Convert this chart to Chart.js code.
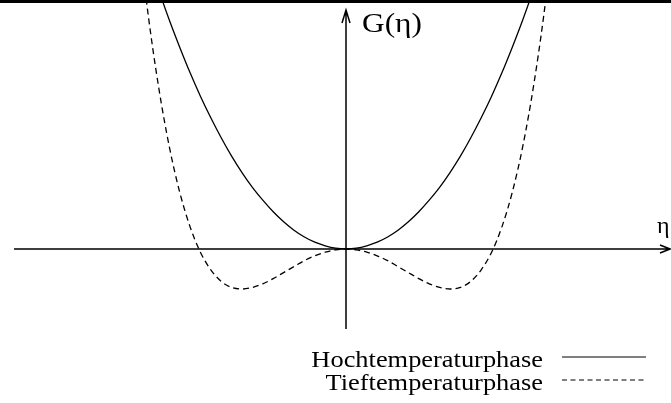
<!DOCTYPE html>
<html>
<head>
<meta charset="utf-8">
<title>G(η)</title>
<script src="https://cdn.jsdelivr.net/npm/chart.js@4/dist/chart.umd.min.js"></script>
<style>
  html, body { margin: 0; padding: 0; background: #fff; }
  canvas { display: block; }
</style>
</head>
<body>
<canvas id="landau" width="671" height="403"></canvas>
<script>
// Ordnungsparameter eta
const eta = [-2.0, -1.9, -1.8, -1.7, -1.6, -1.5, -1.4, -1.3, -1.2, -1.1, -1.0,
             -0.9, -0.8, -0.7, -0.6, -0.5, -0.4, -0.3, -0.2, -0.1, 0.0,
             0.1, 0.2, 0.3, 0.4, 0.5, 0.6, 0.7, 0.8, 0.9, 1.0,
             1.1, 1.2, 1.3, 1.4, 1.5, 1.6, 1.7, 1.8, 1.9, 2.0];

// G(eta) oberhalb Tc: einfaches Minimum bei eta = 0
const hochT = [8.10, 7.26, 6.47, 5.73, 5.05, 4.41, 3.82, 3.28, 2.78, 2.32, 1.91,
               1.54, 1.22, 0.93, 0.68, 0.47, 0.30, 0.17, 0.08, 0.02, 0.00,
               0.02, 0.08, 0.17, 0.30, 0.47, 0.68, 0.93, 1.22, 1.54, 1.91,
               2.32, 2.78, 3.28, 3.82, 4.41, 5.05, 5.73, 6.47, 7.26, 8.10];

// G(eta) unterhalb Tc: Doppelmulde
const tiefT = [8.00, 5.81, 4.02, 2.57, 1.43, 0.56, -0.08, -0.52, -0.81, -0.96, -1.00,
               -0.96, -0.87, -0.74, -0.59, -0.44, -0.29, -0.17, -0.08, -0.02, 0.00,
               -0.02, -0.08, -0.17, -0.29, -0.44, -0.59, -0.74, -0.87, -0.96, -1.00,
               -0.96, -0.81, -0.52, -0.08, 0.56, 1.43, 2.57, 4.02, 5.81, 8.00];

const legendLabels = ['Hochtemperaturphase', 'Tieftemperaturphase'];

const serif = "'Liberation Serif', 'Times New Roman', serif";

function toPoints(ys) {
  return eta.map((x, i) => ({ x: x, y: ys[i] }));
}

// Text leicht in die Breite gezogen
function wideText(ctx, text, x, y, size, stretch, align) {
  ctx.save();
  ctx.font = size + 'px ' + serif;
  ctx.fillStyle = '#000';
  ctx.textBaseline = 'alphabetic';
  const w = ctx.measureText(text).width * stretch;
  const left = align === 'right' ? x - w : x;
  ctx.translate(left, y);
  ctx.scale(stretch, 1);
  ctx.textAlign = 'left';
  ctx.fillText(text, 0, 0);
  ctx.restore();
}

const axesPlugin = {
  id: 'achsen',
  beforeDatasetsDraw(chart) {
    const { ctx, scales: { x, y }, chartArea: a } = chart;
    const x0 = x.getPixelForValue(0);
    const y0 = y.getPixelForValue(0);
    ctx.save();
    ctx.strokeStyle = '#000';
    ctx.lineWidth = 1.5;
    ctx.beginPath();
    // eta-Achse mit offener Pfeilspitze
    ctx.moveTo(a.left + 14, y0);
    ctx.lineTo(a.right - 1, y0);
    ctx.moveTo(a.right - 11, y0 - 4);
    ctx.lineTo(a.right - 1, y0);
    ctx.lineTo(a.right - 11, y0 + 4);
    // G-Achse
    ctx.moveTo(x0, a.top + 329);
    ctx.lineTo(x0, a.top + 10);
    ctx.moveTo(x0 - 4, a.top + 23);
    ctx.lineTo(x0, a.top + 10);
    ctx.lineTo(x0 + 4, a.top + 23);
    ctx.stroke();
    ctx.restore();
  },
  afterDraw(chart) {
    const { ctx, scales: { x, y }, chartArea: a } = chart;
    const x0 = x.getPixelForValue(0);
    const y0 = y.getPixelForValue(0);

    wideText(ctx, 'G(η)', x0 + 16, a.top + 32, 28, 1.12, 'left');
    wideText(ctx, 'η', a.right - 14, y0 - 16, 24, 1.0, 'left');

    // Legende: Text links, Linienmuster rechts
    const rows = [
      { label: legendLabels[0], dash: [], base: 367, line: 357 },
      { label: legendLabels[1], dash: [5, 3.5], base: 390, line: 380 }
    ];
    rows.forEach(r => {
      wideText(ctx, r.label, 543, r.base, 24, 1.1, 'right');
      ctx.save();
      ctx.strokeStyle = '#000';
      ctx.lineWidth = 1.2;
      ctx.setLineDash(r.dash);
      ctx.beginPath();
      ctx.moveTo(562, r.line);
      ctx.lineTo(646, r.line);
      ctx.stroke();
      ctx.restore();
    });

    // schwarzer Rand oben
    ctx.save();
    ctx.fillStyle = '#000';
    ctx.fillRect(0, 0, chart.width, 3);
    ctx.restore();
  }
};

new Chart(document.getElementById('landau'), {
  type: 'line',
  data: {
    datasets: [{
      label: legendLabels[0],
      data: toPoints(hochT),
      borderColor: '#000',
      borderWidth: 1.3,
      pointRadius: 0,
      fill: false,
      cubicInterpolationMode: 'monotone'
    }, {
      label: legendLabels[1],
      data: toPoints(tiefT),
      borderColor: '#000',
      borderWidth: 1.3,
      borderDash: [6, 4],
      pointRadius: 0,
      fill: false,
      cubicInterpolationMode: 'monotone'
    }]
  },
  options: {
    responsive: false,
    animation: false,
    devicePixelRatio: 1,
    layout: { padding: 0 },
    plugins: { legend: { display: false }, tooltip: { enabled: false } },
    scales: {
      x: { type: 'linear', display: false, min: -3.327, max: 3.125 },
      y: { type: 'linear', display: false, min: -3.85, max: 6.225 }
    }
  },
  plugins: [axesPlugin]
});
</script>
</body>
</html>
